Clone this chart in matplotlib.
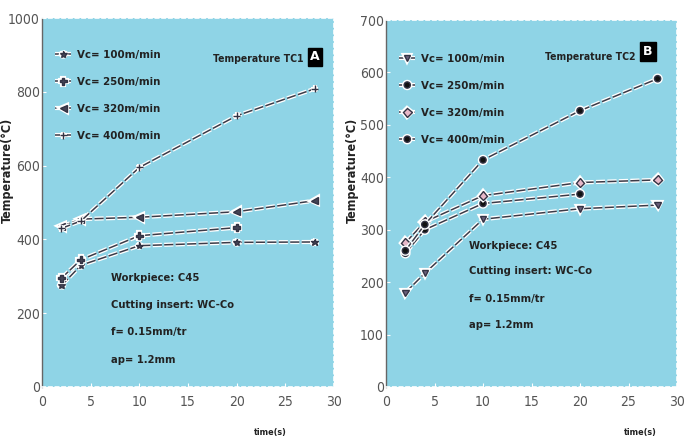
import matplotlib
matplotlib.use("Agg")
import matplotlib.pyplot as plt
import matplotlib.patheffects as pe

# ---- data ----
labels = ["Vc= 100m/min", "Vc= 250m/min", "Vc= 320m/min", "Vc= 400m/min"]

t_full = [2, 4, 10, 20, 28]
t_short = [2, 4, 10, 20]

# Panel A: Temperature TC1
a_100 = [275, 330, 383, 392, 393]
a_250 = [295, 345, 410, 432]
a_320 = [435, 455, 460, 475, 505]
a_400 = [430, 450, 595, 735, 808]

# Panel B: Temperature TC2
b_100 = [180, 217, 320, 340, 347]
b_250 = [255, 300, 350, 368]
b_320 = [275, 315, 365, 390, 395]
b_400 = [260, 310, 433, 527, 588]

yticks_a = [0, 200, 400, 600, 800, 1000]
yticks_b = [0, 100, 200, 300, 400, 500, 600, 700]
xticks = [0, 5, 10, 15, 20, 25, 30]

notes = ["Workpiece: C45", "Cutting insert: WC-Co", "f= 0.15mm/tr", "ap= 1.2mm"]

BG = "#8fd4e6"
LINE = "#3b3b48"
FAM = "DejaVu Sans"
ST = "condensed"

fig = plt.figure(figsize=(6.92, 4.43), dpi=100)
fig.patch.set_facecolor("white")

axA = fig.add_axes([42/692, 56/443, 292/692, 369/443])
axB = fig.add_axes([386/692, 56/443, 291/692, 367/443])

stroke = [pe.Stroke(linewidth=3.0, foreground="white"), pe.Normal()]

def style(ax, ymax, yticks):
    ax.set_facecolor(BG)
    ax.set_xlim(0, 30)
    ax.set_ylim(0, ymax)
    ax.set_xticks(xticks)
    ax.set_yticks(yticks)
    ax.set_xticklabels([str(v) for v in xticks], family=FAM, stretch=ST, fontsize=10, color="#555555")
    ax.set_yticklabels([str(v) for v in yticks], family=FAM, stretch=ST, fontsize=10, color="#555555")
    ax.tick_params(direction="in", length=3, color="white")
    ax.tick_params(axis="x", pad=6)
    ax.tick_params(axis="y", pad=1.5)
    for s in ["top", "right", "bottom"]:
        ax.spines[s].set_color("white")
        ax.spines[s].set_linestyle((0, (2, 2)))
        ax.spines[s].set_linewidth(1.2)
    ax.spines["left"].set_color("#666666")
    ax.spines["left"].set_linewidth(1.0)

style(axA, 1000, yticks_a)
style(axB, 700, yticks_b)

# Panel A lines
mk_a = ["*", "P", "<", "+"]
ser_a = [(t_full, a_100), (t_short, a_250), (t_full, a_320), (t_full, a_400)]
for (tt, yy), m, lab in zip(ser_a, mk_a, labels):
    axA.plot(tt, yy, color=LINE, lw=1.1, marker=m, ms=5, mfc="#444455", mec="#333344",
             label=lab, path_effects=stroke, dashes=(6, 1.5))

# Panel B lines
mk_b = ["v", "o", "D", "o"]
mfc_b = ["#6a5f7a", "#111111", "#e8b8c8", "#111111"]
ser_b = [(t_full, b_100), (t_short, b_250), (t_full, b_320), (t_full, b_400)]
for (tt, yy), m, fc, lab in zip(ser_b, mk_b, mfc_b, labels):
    axB.plot(tt, yy, color=LINE, lw=1.1, marker=m, ms=4.5, mfc=fc, mec="#333344",
             label=lab, path_effects=stroke, dashes=(6, 1.5))

for ax, top in [(axA, 0.925), (axB, 0.92)]:
    leg = ax.legend(loc="upper left", bbox_to_anchor=(0.03, top), frameon=False,
                    handlelength=1.4, handletextpad=0.5, labelspacing=1.5,
                    borderaxespad=0,
                    prop={"family": FAM, "stretch": ST, "size": 8.2, "weight": "bold"})
    for txt in leg.get_texts():
        txt.set_color("#222222")

# Titles inside panels
axA.text(0.585, 0.89, "Temperature TC1", transform=axA.transAxes, family=FAM, stretch=ST,
         fontsize=7.5, fontweight="bold", color="#222222", va="center")
axA.text(0.935, 0.895, "A", transform=axA.transAxes, family=FAM, fontsize=9,
         fontweight="bold", color="white", va="center", ha="center",
         bbox=dict(boxstyle="square,pad=0.2", fc="black", ec="black"))
axB.text(0.545, 0.9, "Temperature TC2", transform=axB.transAxes, family=FAM, stretch=ST,
         fontsize=7.5, fontweight="bold", color="#222222", va="center")
axB.text(0.9, 0.915, "B", transform=axB.transAxes, family=FAM, fontsize=9,
         fontweight="bold", color="white", va="center", ha="center",
         bbox=dict(boxstyle="square,pad=0.25", fc="black", ec="black"))

# Notes
for ax, ys in [(axA, [0.295, 0.222, 0.150, 0.073]), (axB, [0.385, 0.315, 0.240, 0.170])]:
    x0 = 0.235 if ax is axA else 0.285
    for y, s in zip(ys, notes):
        ax.text(x0, y, s, transform=ax.transAxes, family=FAM, stretch=ST, fontsize=8,
                fontweight="bold", color="#222222", va="center")

# Axis labels
for x in [270, 640]:
    fig.text(x/692, 1 - 432/443, "time(s)", family=FAM, stretch=ST, fontsize=6.5,
             fontweight="bold", color="#222222", ha="center", va="center")
for x in [7, 352]:
    fig.text(x/692, 1 - 170/443, "Temperature(°C)", family=FAM, stretch=ST, fontsize=9,
             fontweight="bold", color="#222222", ha="center", va="center", rotation=90)

fig.savefig("out.png", dpi=100, facecolor="white")
